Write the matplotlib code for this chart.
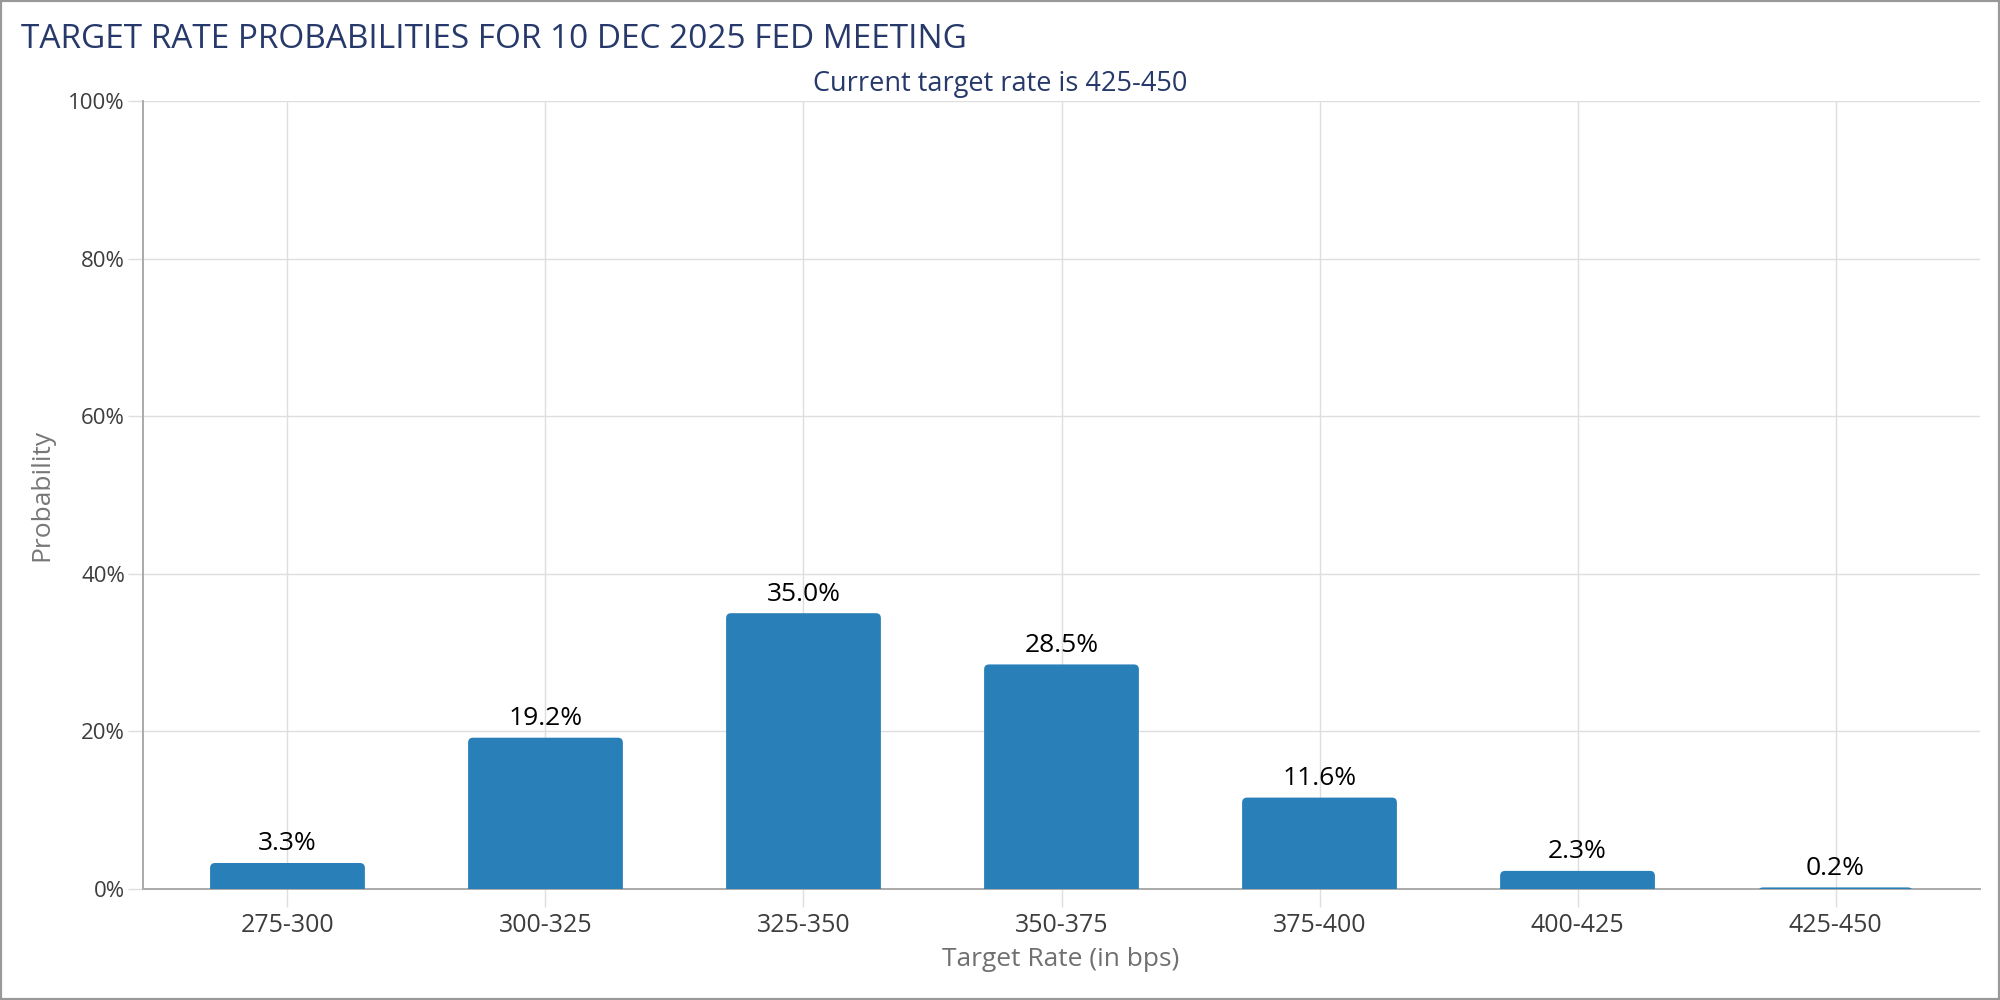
import matplotlib
matplotlib.use('Agg')
import matplotlib.pyplot as plt
from matplotlib.patches import FancyBboxPatch, Rectangle
from matplotlib.ticker import PercentFormatter

# Data
rate_ranges = ['275-300', '300-325', '325-350', '350-375', '375-400', '400-425', '425-450']
probabilities = [3.3, 19.2, 35.0, 28.5, 11.6, 2.3, 0.2]
y_ticks = [0, 20, 40, 60, 80, 100]

title = 'TARGET RATE PROBABILITIES FOR 10 DEC 2025 FED MEETING'
subtitle = 'Current target rate is 425-450'

NAVY = '#26396a'
BAR = '#2980b9'
GRID = '#dedede'
AXIS = '#aaaaaa'
TICK_TXT = '#3d3d3d'

plt.rcParams['font.family'] = ['Open Sans', 'DejaVu Sans']

fig = plt.figure(figsize=(20, 10), dpi=100)
ax = fig.add_axes([0.0715, 0.111, 0.9185, 0.788])

bar_width = 0.6
corner_px = 5
ax.set_xlim(-0.56, len(rate_ranges) - 1 + 0.56)
ax.set_ylim(0, 100)

# data units per pixel, used to keep the corner radius round
ax_w_px = 0.9185 * 2000
ax_h_px = 0.788 * 1000
dx = (len(rate_ranges) - 1 + 1.12) / ax_w_px
dy = 100 / ax_h_px
rx = corner_px * dx
ry = corner_px * dy

for i, p in enumerate(probabilities):
    bottom = -3.0  # goes below the axis so only top corners show rounded
    box = FancyBboxPatch(
        (i - bar_width / 2, bottom), bar_width, p - bottom,
        boxstyle=f'round,pad=0,rounding_size={rx}',
        mutation_aspect=ry / rx,
        facecolor=BAR, edgecolor='none', zorder=3, clip_on=True,
    )
    ax.add_patch(box)
    ax.annotate(f'{p:.1f}%', (i, p), xytext=(0, 9), textcoords='offset points',
                ha='center', va='baseline', fontsize=19, color='black', zorder=4)

ax.set_xticks(range(len(rate_ranges)))
ax.set_xticklabels(rate_ranges)
ax.set_yticks(y_ticks)
ax.yaxis.set_major_formatter(PercentFormatter(decimals=0))

ax.grid(True, color=GRID, linewidth=1.0, zorder=0)
ax.set_axisbelow(True)

for side in ('top', 'right'):
    ax.spines[side].set_visible(False)
for side in ('left', 'bottom'):
    ax.spines[side].set_color(AXIS)
    ax.spines[side].set_linewidth(1.4)
    ax.spines[side].set_zorder(2.5)

ax.tick_params(axis='x', length=13, width=1.0, color=GRID, pad=4,
               labelsize=18, labelcolor=TICK_TXT)
ax.tick_params(axis='y', length=11, width=1.0, color=GRID, pad=2,
               labelsize=16, labelcolor=TICK_TXT)

fig.text(21 / 2000, 1 - 40 / 1000, title, ha='left', va='center',
         fontsize=24, color=NAVY)
fig.text(0.5, 1 - 84 / 1000, subtitle, ha='center', va='center',
         fontsize=19.5, color=NAVY)
fig.text(0.021, 0.505, 'Probability', rotation=90, ha='center', va='center',
         fontsize=19, color='#777777')
fig.text(1061 / 2000, 1 - 959 / 1000, 'Target Rate (in bps)', ha='center', va='center',
         fontsize=19, color='#707070')

# grey frame round the whole picture
fig.patches.append(Rectangle((0, 0), 1, 1, transform=fig.transFigure, fill=False,
                             edgecolor='#999999', linewidth=3, zorder=10))

fig.savefig('out.png', dpi=100)
